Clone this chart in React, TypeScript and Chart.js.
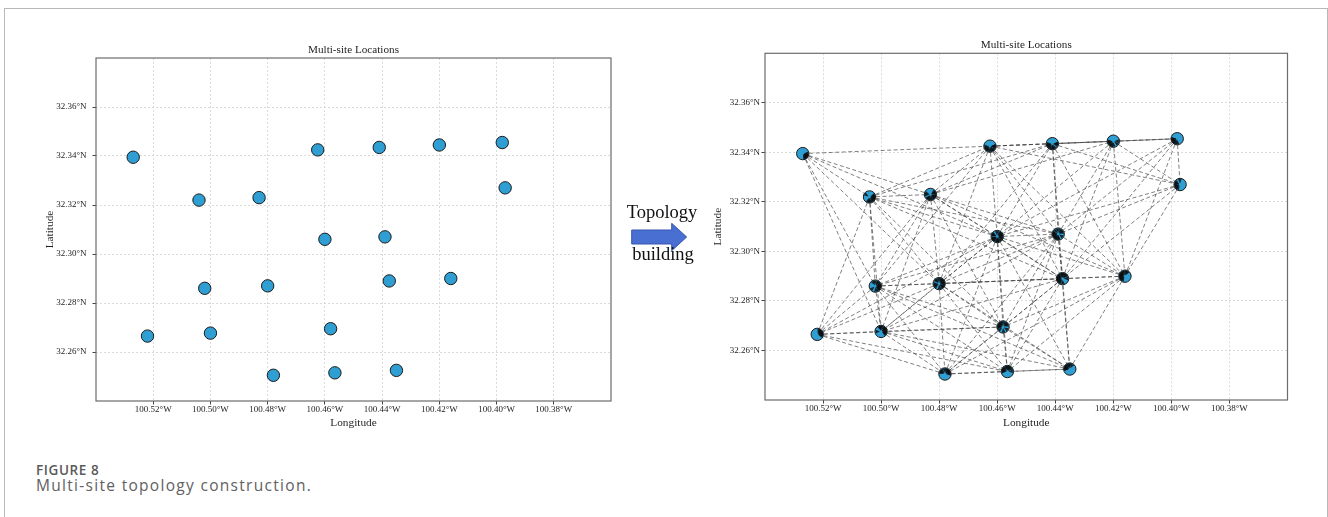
import React, { useEffect, useRef } from "react";
import { Chart, registerables } from "chart.js";

Chart.register(...registerables);

// ---- data ----
const SITE_LON = [
  -100.527, -100.504, -100.483, -100.4625, -100.441, -100.42, -100.398, -100.397,
  -100.46, -100.439, -100.502, -100.48, -100.4375, -100.416, -100.522, -100.5,
  -100.458, -100.478, -100.4565, -100.435,
];
const SITE_LAT = [
  32.3395, 32.322, 32.323, 32.3425, 32.3435, 32.3445, 32.3455, 32.327,
  32.306, 32.307, 32.286, 32.287, 32.289, 32.29, 32.2665, 32.2677,
  32.2695, 32.2505, 32.2515, 32.2525,
];
// links between sites (1-based site numbers)
const LINKS: [number, number][] = [
  [1, 2], [1, 3], [1, 4], [1, 9], [1, 11], [1, 12], [1, 16],
  [2, 3], [2, 4], [2, 5], [2, 9], [2, 10], [2, 11], [2, 12], [2, 13], [2, 15], [2, 16], [2, 17],
  [3, 4], [3, 5], [3, 6], [3, 9], [3, 10], [3, 11], [3, 12], [3, 13], [3, 14], [3, 15], [3, 16], [3, 17],
  [4, 5], [4, 6], [4, 7], [4, 8], [4, 9], [4, 10], [4, 11], [4, 12], [4, 13], [4, 14],
  [5, 6], [5, 7], [5, 8], [5, 9], [5, 10], [5, 12], [5, 13], [5, 14],
  [6, 7], [6, 8], [6, 9], [6, 10], [6, 13], [6, 14],
  [7, 8], [7, 9], [7, 10], [7, 13], [7, 14],
  [8, 9], [8, 10], [8, 13], [8, 14],
  [9, 10], [9, 11], [9, 12], [9, 13], [9, 14], [9, 15], [9, 16], [9, 17], [9, 18], [9, 19], [9, 20],
  [10, 11], [10, 12], [10, 13], [10, 14], [10, 16], [10, 17], [10, 18], [10, 19], [10, 20],
  [11, 12], [11, 13], [11, 15], [11, 16], [11, 17], [11, 18], [11, 19], [11, 20],
  [12, 13], [12, 14], [12, 15], [12, 16], [12, 17], [12, 18], [12, 19], [12, 20],
  [13, 14], [13, 16], [13, 17], [13, 18], [13, 19], [13, 20],
  [14, 17], [14, 18], [14, 19], [14, 20],
  [15, 16], [15, 17], [15, 18], [15, 19],
  [16, 17], [16, 18], [16, 19], [16, 20],
  [17, 18], [17, 19], [17, 20],
  [18, 19], [18, 20],
  [19, 20],
];
const X_MIN = -100.54;
const X_MAX = -100.36;
const Y_MIN = 32.24;
const Y_MAX = 32.38;
const X_TICKS = [-100.52, -100.5, -100.48, -100.46, -100.44, -100.42, -100.4, -100.38];
const X_TICK_LABELS = ["100.52°W", "100.50°W", "100.48°W", "100.46°W", "100.44°W", "100.42°W", "100.40°W", "100.38°W"];
const Y_TICKS = [32.26, 32.28, 32.3, 32.32, 32.34, 32.36];
const Y_TICK_LABELS = ["32.26°N", "32.28°N", "32.30°N", "32.32°N", "32.34°N", "32.36°N"];
const CHART_TITLE = "Multi-site Locations";
const X_TITLE = "Longitude";
const Y_TITLE = "Latitude";

// ---- styles ----
const SERIF = '"Liberation Serif", "Times New Roman", serif';
const TEXT = "#1e1e1e";
const GRID = "#d2d2d2";
const NODE_FILL = "#2f9fd3";
const NODE_EDGE = "#1a1a1a";
const LINK_COLOR = "rgba(68,68,68,0.68)";

type Geom = {
  padL: number; padR: number; yAxisW: number; xAxisH: number;
  titleTop: number; titleBottom: number; yTitlePad: number; xTitlePad: number;
  yTickPad: number; xTickPad: number;
};

const framePlugin = {
  id: "frame",
  beforeDatasetsDraw(chart: any) {
    const { ctx, chartArea: a } = chart;
    ctx.save();
    ctx.setLineDash([]);
    ctx.strokeStyle = "#6c6c6c";
    ctx.lineWidth = 1.2;
    ctx.strokeRect(a.left, a.top, a.right - a.left, a.bottom - a.top);
    ctx.restore();
  },
};

const arrowPlugin = {
  id: "arrowheads",
  afterDatasetsDraw(chart: any) {
    const xs = chart.scales.x;
    const ys = chart.scales.y;
    const ctx = chart.ctx;
    ctx.save();
    ctx.fillStyle = "rgba(15,15,15,0.85)";
    for (const [a, b] of LINKS) {
      for (const [s, t] of [[a, b], [b, a]]) {
        const sx = xs.getPixelForValue(SITE_LON[s - 1]);
        const sy = ys.getPixelForValue(SITE_LAT[s - 1]);
        const tx = xs.getPixelForValue(SITE_LON[t - 1]);
        const ty = ys.getPixelForValue(SITE_LAT[t - 1]);
        const dx = tx - sx, dy = ty - sy;
        const len = Math.hypot(dx, dy) || 1;
        const ux = dx / len, uy = dy / len;
        const tipX = tx - ux * 1, tipY = ty - uy * 1;
        const bx = tipX - ux * 4.5, by = tipY - uy * 4.5;
        ctx.beginPath();
        ctx.moveTo(tipX, tipY);
        ctx.lineTo(bx - uy * 1.8, by + ux * 1.8);
        ctx.lineTo(bx + uy * 1.8, by - ux * 1.8);
        ctx.closePath();
        ctx.fill();
      }
    }
    ctx.restore();
  },
};

function buildChart(canvas: HTMLCanvasElement, g: Geom, withLinks: boolean) {
  const datasets: any[] = [
    {
      label: "sites",
      order: 0,
      data: SITE_LON.map((x, i) => ({ x, y: SITE_LAT[i] })),
      showLine: false,
      pointRadius: 6.2,
      pointBackgroundColor: NODE_FILL,
      pointBorderColor: NODE_EDGE,
      pointBorderWidth: 1,
    },
  ];
  if (withLinks) {
    LINKS.forEach(([a, b]) => {
      datasets.push({
        label: `link ${a}-${b}`,
        order: 1,
        data: [
          { x: SITE_LON[a - 1], y: SITE_LAT[a - 1] },
          { x: SITE_LON[b - 1], y: SITE_LAT[b - 1] },
        ],
        showLine: true,
        fill: false,
        borderColor: LINK_COLOR,
        borderWidth: 1,
        borderDash: [4, 2.5],
        pointRadius: 0,
      });
    });
  }
  const tickFont = { family: SERIF, size: 9 };
  const titleFont = { family: SERIF, size: 11.3 };
  return new Chart(canvas, {
    type: "scatter",
    data: { datasets },
    options: {
      animation: false,
      responsive: false,
      maintainAspectRatio: false,
      devicePixelRatio: 1,
      events: [],
      layout: { padding: { left: g.padL, right: g.padR, top: 0, bottom: 0 } },
      plugins: {
        legend: { display: false },
        tooltip: { enabled: false },
        title: {
          display: true,
          text: CHART_TITLE,
          fullSize: false,
          color: TEXT,
          font: { family: SERIF, size: 11.2, weight: "normal" },
          padding: { top: g.titleTop, bottom: g.titleBottom },
        },
      },
      scales: {
        x: {
          type: "linear",
          min: X_MIN,
          max: X_MAX,
          afterBuildTicks: (axis: any) => {
            axis.ticks = X_TICKS.map((value) => ({ value }));
          },
          afterFit: (axis: any) => {
            axis.height = g.xAxisH;
          },
          ticks: {
            autoSkip: false,
            maxRotation: 0,
            minRotation: 0,
            padding: g.xTickPad,
            color: TEXT,
            font: tickFont,
            callback: (_v: any, i: number) => X_TICK_LABELS[i],
          },
          grid: { color: GRID, lineWidth: 0.8, drawTicks: true, tickLength: 3.5, tickColor: "#444", tickWidth: 1 },
          border: { display: false, dash: [2, 2] },
          title: { display: true, text: X_TITLE, color: TEXT, font: titleFont, padding: { top: 0, bottom: g.xTitlePad } },
        },
        y: {
          type: "linear",
          min: Y_MIN,
          max: Y_MAX,
          afterBuildTicks: (axis: any) => {
            axis.ticks = Y_TICKS.map((value) => ({ value }));
          },
          afterFit: (axis: any) => {
            axis.width = g.yAxisW;
          },
          ticks: {
            autoSkip: false,
            padding: g.yTickPad,
            color: TEXT,
            font: tickFont,
            callback: (_v: any, i: number) => Y_TICK_LABELS[i],
          },
          grid: { color: GRID, lineWidth: 0.8, drawTicks: true, tickLength: 3.5, tickColor: "#444", tickWidth: 1 },
          border: { display: false, dash: [2, 2] },
          title: { display: true, text: Y_TITLE, color: TEXT, font: titleFont, padding: { top: g.yTitlePad, bottom: 0 } },
        },
      },
    } as any,
    plugins: withLinks ? [framePlugin, arrowPlugin] : [framePlugin],
  });
}

const LEFT_GEOM: Geom = {
  padL: 30, padR: 49, yAxisW: 66, xAxisH: 39,
  titleTop: 43.28, titleBottom: 1.28, yTitlePad: 13.22, xTitlePad: 10.22,
  yTickPad: 6, xTickPad: 0.1,
};
const RIGHT_GEOM: Geom = {
  padL: 40, padR: 40.5, yAxisW: 65, xAxisH: 40,
  titleTop: 38.28, titleBottom: 1.58, yTitlePad: 11.22, xTitlePad: 10.52,
  yTickPad: 1.5, xTickPad: 0.1,
};

export default function App() {
  const leftRef = useRef<HTMLCanvasElement>(null);
  const rightRef = useRef<HTMLCanvasElement>(null);

  useEffect(() => {
    const charts: Chart[] = [];
    if (leftRef.current) charts.push(buildChart(leftRef.current, LEFT_GEOM, false));
    if (rightRef.current) charts.push(buildChart(rightRef.current, RIGHT_GEOM, true));
    return () => charts.forEach((c) => c.destroy());
  }, []);

  return (
    <div style={{ position: "absolute", left: 0, top: 0, width: 1328, height: 517, background: "#fff", overflow: "hidden" }}>
      <div
        style={{
          position: "absolute", left: 4, top: 8, width: 1324, height: 560,
          boxSizing: "border-box", border: "1px solid #b8b8b8",
        }}
      />
      <canvas ref={leftRef} width={660} height={440} style={{ position: "absolute", left: 0, top: 0, width: 660, height: 440 }} />
      <canvas ref={rightRef} width={668} height={440} style={{ position: "absolute", left: 660, top: 0, width: 668, height: 440 }} />
      <svg width={70} height={40} style={{ position: "absolute", left: 625, top: 218 }}>
        <polygon points="6.7,12 46.7,12 46.7,5.3 61.7,19 46.7,32.7 46.7,26 6.7,26" fill="#4a6fd2" stroke="#3757ad" strokeWidth={1} />
      </svg>
      <div style={{ position: "absolute", left: 602, top: 200.8, width: 120, textAlign: "center", fontFamily: SERIF, fontSize: 18.5, lineHeight: "22px", color: "#111", whiteSpace: "nowrap" }}>
        Topology
      </div>
      <div style={{ position: "absolute", left: 603, top: 242.8, width: 120, textAlign: "center", fontFamily: SERIF, fontSize: 18.5, lineHeight: "22px", color: "#111", whiteSpace: "nowrap" }}>
        building
      </div>
      <div style={{ position: "absolute", left: 36, top: 459.6, fontFamily: '"Open Sans", sans-serif', fontWeight: 600, fontSize: 13.5, lineHeight: "20px", letterSpacing: "0.6px", color: "#5a5a5a", whiteSpace: "nowrap" }}>
        FIGURE 8
      </div>
      <div style={{ position: "absolute", left: 36, top: 473.5, fontFamily: '"Open Sans", sans-serif', fontWeight: 400, fontSize: 15.5, lineHeight: "22px", letterSpacing: "1.3px", color: "#616161", whiteSpace: "nowrap" }}>
        Multi-site topology construction.
      </div>
    </div>
  );
}
